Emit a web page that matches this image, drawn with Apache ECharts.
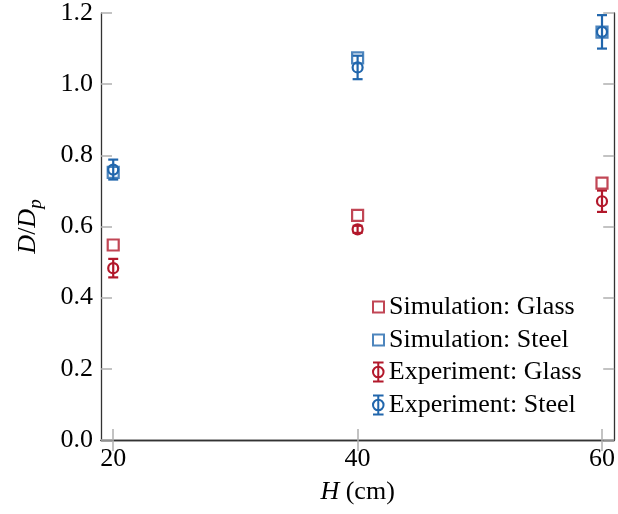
<!DOCTYPE html>
<html>
<head>
<meta charset="utf-8">
<script src="https://cdn.jsdelivr.net/npm/echarts@6/dist/echarts.min.js"></script>
<style>
html,body{margin:0;padding:0;background:#fff;}
#chart{width:618px;height:514px;}
</style>
</head>
<body>
<div id="chart"></div>
<script>
var heights = [20, 40, 60];
var xTicks = [20, 40, 60];
var yTicks = [0, 0.2, 0.4, 0.6, 0.8, 1.0, 1.2];
var simGlass = [0.548, 0.631, 0.722];
var simSteel = [0.752, 1.074, 1.146];
var expGlass = [0.483, 0.592, 0.671];
var errGlass = [0.026, 0.010, 0.030];
var expSteel = [0.760, 1.047, 1.147];
var errSteel = [0.028, 0.033, 0.047];

var RED = '#b2182b';
var BLUE = '#2166ac';
var FONT = 'Liberation Serif';
var FS = 26;

function pairs(xs, ys) { return xs.map(function (x, i) { return [x, ys[i]]; }); }
function errData(xs, ys, es) { return xs.map(function (x, i) { return [x, ys[i], ys[i] - es[i], ys[i] + es[i]]; }); }

function errRender(color) {
  return function (params, api) {
    var x = api.value(0);
    var c = api.coord([x, api.value(1)]);
    var lo = api.coord([x, api.value(2)]);
    var hi = api.coord([x, api.value(3)]);
    var st = { stroke: color, lineWidth: 2.2, fill: null };
    return {
      type: 'group',
      children: [
        { type: 'line', shape: { x1: c[0], y1: hi[1], x2: c[0], y2: lo[1] }, style: st },
        { type: 'line', shape: { x1: c[0] - 5, y1: hi[1], x2: c[0] + 5, y2: hi[1] }, style: st },
        { type: 'line', shape: { x1: c[0] - 5, y1: lo[1], x2: c[0] + 5, y2: lo[1] }, style: st },
        { type: 'circle', shape: { cx: c[0], cy: c[1], r: 5 }, style: { stroke: color, lineWidth: 2.2, fill: 'none' } }
      ]
    };
  };
}

var sqIcon = 'path://M0,0H10V10H0Z';
var ebIcon = 'path://M5,0V18M0,0H10M0,18H10M10,9A5,5 0 1 1 0,9A5,5 0 1 1 10,9Z';

var tickStyle = { show: true, inside: true, length: 11, lineStyle: { color: '#b0b0b0', width: 1.5 } };
var lineStyle = { show: true, lineStyle: { color: '#333', width: 1.3 } };

var chart = echarts.init(document.getElementById('chart'), null, { renderer: 'canvas' });
chart.setOption({
  backgroundColor: '#fff',
  animation: false,
  grid: { left: 101, top: 12, right: 1.5, bottom: 74, containLabel: false },
  xAxis: [{
    type: 'value', min: 19, max: 61, position: 'bottom',
    axisLine: lineStyle,
    axisTick: Object.assign({ customValues: xTicks }, tickStyle),
    axisLabel: { customValues: xTicks, margin: 6, color: '#000', fontFamily: FONT, fontSize: FS },
    splitLine: { show: false },
    name: '{i|H} (cm)', nameLocation: 'middle', nameGap: 39,
    nameTextStyle: { fontFamily: FONT, fontSize: FS, color: '#000',
      rich: { i: { fontFamily: FONT, fontSize: FS, fontStyle: 'italic', color: '#000' } } }
  }, {
    type: 'value', min: 19, max: 61, position: 'top',
    axisLine: lineStyle,
    axisTick: Object.assign({ customValues: xTicks }, tickStyle),
    axisLabel: { show: false }, splitLine: { show: false }
  }],
  yAxis: [{
    type: 'value', min: 0, max: 1.2, interval: 0.2, position: 'left',
    axisLine: lineStyle, axisTick: tickStyle,
    axisLabel: { margin: 8, color: '#000', fontFamily: FONT, fontSize: FS,
      formatter: function (v) { return v.toFixed(1); } },
    splitLine: { show: false },
    name: '{i|D}{n|/}{i|D}{s|p}', nameLocation: 'middle', nameGap: 56, nameRotate: 90,
    nameTextStyle: { fontFamily: FONT, fontSize: FS, color: '#000',
      rich: {
        i: { fontFamily: FONT, fontSize: FS, fontStyle: 'italic', color: '#000', lineHeight: 34, verticalAlign: 'middle' },
        n: { fontFamily: FONT, fontSize: FS, color: '#000', lineHeight: 34, verticalAlign: 'middle' },
        s: { fontFamily: FONT, fontSize: 19, fontStyle: 'italic', color: '#000', lineHeight: 34, verticalAlign: 'bottom' }
      } }
  }, {
    type: 'value', min: 0, max: 1.2, interval: 0.2, position: 'right',
    axisLine: lineStyle, axisTick: tickStyle,
    axisLabel: { show: false }, splitLine: { show: false }
  }],
  legend: [{
    orient: 'vertical', left: 372, top: 294, padding: 0, itemGap: 7, itemWidth: 11, itemHeight: 11,
    textStyle: { fontFamily: FONT, fontSize: FS, color: '#000', lineHeight: 26 },
    data: [
      { name: 'Simulation: Glass', icon: sqIcon, itemStyle: { color: 'transparent', borderColor: RED, borderWidth: 2 } },
      { name: 'Simulation: Steel', icon: sqIcon, itemStyle: { color: 'transparent', borderColor: BLUE, borderWidth: 2 } }
    ]
  }, {
    orient: 'vertical', left: 372, top: 359, padding: 0, itemGap: 7, itemWidth: 11, itemHeight: 19,
    textStyle: { fontFamily: FONT, fontSize: FS, color: '#000', lineHeight: 26 },
    data: [
      { name: 'Experiment: Glass', icon: ebIcon, itemStyle: { color: 'transparent', borderColor: RED, borderWidth: 2 } },
      { name: 'Experiment: Steel', icon: ebIcon, itemStyle: { color: 'transparent', borderColor: BLUE, borderWidth: 2 } }
    ]
  }],
  series: [{
    name: 'Simulation: Glass', type: 'scatter', data: pairs(heights, simGlass),
    symbol: 'rect', symbolSize: 11,
    itemStyle: { color: 'transparent', borderColor: RED, borderWidth: 2.2 }
  }, {
    name: 'Simulation: Steel', type: 'scatter', data: pairs(heights, simSteel),
    symbol: 'rect', symbolSize: 11,
    itemStyle: { color: 'transparent', borderColor: BLUE, borderWidth: 2.2 }
  }, {
    name: 'Experiment: Glass', type: 'custom', data: errData(heights, expGlass, errGlass),
    renderItem: errRender(RED), encode: { x: 0, y: [1, 2, 3] },
    itemStyle: { color: RED }
  }, {
    name: 'Experiment: Steel', type: 'custom', data: errData(heights, expSteel, errSteel),
    renderItem: errRender(BLUE), encode: { x: 0, y: [1, 2, 3] },
    itemStyle: { color: BLUE }
  }]
});
</script>
</body>
</html>
